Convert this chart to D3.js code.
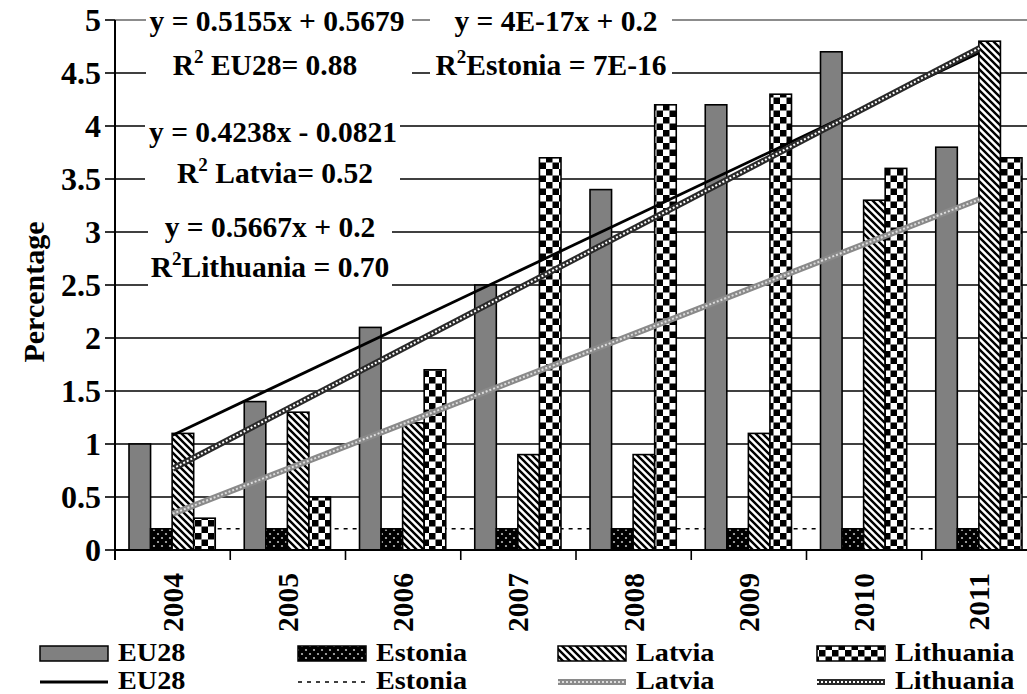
<!DOCTYPE html>
<html><head><meta charset="utf-8">
<script src="https://cdn.jsdelivr.net/npm/d3@7"></script>
<style>
html,body{margin:0;padding:0;background:#fff;}
text{font-family:"Liberation Serif","Times New Roman",serif;font-weight:bold;fill:#000;}
</style></head>
<body>
<svg id="c" width="1027" height="694"></svg>
<script>
const years = ["2004","2005","2006","2007","2008","2009","2010","2011"];
const seriesNames = ["EU28","Estonia","Latvia","Lithuania"];
const eu28      = [1.0, 1.4, 2.1, 2.5, 3.4, 4.2, 4.7, 3.8];
const estonia   = [0.2, 0.2, 0.2, 0.2, 0.2, 0.2, 0.2, 0.2];
const latvia    = [1.1, 1.3, 1.2, 0.9, 0.9, 1.1, 3.3, 4.8];
const lithuania = [0.3, 0.5, 1.7, 3.7, 4.2, 4.3, 3.6, 3.7];
const trendSlopes     = [0.5155, 4e-17, 0.4238, 0.5667];
const trendIntercepts = [0.5679, 0.2, -0.0821, 0.2];
const yTicks = [0, 0.5, 1, 1.5, 2, 2.5, 3, 3.5, 4, 4.5, 5];
const eqLines = ["y = 0.5155x + 0.5679", "y = 4E-17x + 0.2", "y = 0.4238x - 0.0821", "y = 0.5667x + 0.2"];
const r2Labels = [["R", "2", " EU28= 0.88"], ["R", "2", "Estonia = 7E-16"], ["R", "2", " Latvia= 0.52"], ["R", "2", "Lithuania = 0.70"]];

const values = [eu28, estonia, latvia, lithuania];
const svg = d3.select("#c");
const defs = svg.append("defs");

// patterns
const pE = defs.append("pattern").attr("id","pEst").attr("patternUnits","userSpaceOnUse").attr("width",8).attr("height",8);
pE.append("rect").attr("width",8).attr("height",8).attr("fill","#000");
pE.append("circle").attr("cx",2).attr("cy",2).attr("r",1.1).attr("fill","#bbb");
pE.append("circle").attr("cx",6).attr("cy",6).attr("r",1.1).attr("fill","#bbb");

const pL = defs.append("pattern").attr("id","pLat").attr("patternUnits","userSpaceOnUse").attr("width",7).attr("height",7);
pL.append("rect").attr("width",7).attr("height",7).attr("fill","#fff");
pL.append("path").attr("d","M0,0L7,7M-2,5L2,9M5,-2L9,2").attr("stroke","#000").attr("stroke-width",2.4);

const pT = defs.append("pattern").attr("id","pLit").attr("patternUnits","userSpaceOnUse").attr("width",13).attr("height",13);
pT.append("rect").attr("width",13).attr("height",13).attr("fill","#fff");
pT.append("rect").attr("width",6.5).attr("height",6.5).attr("fill","#000");
pT.append("rect").attr("x",6.5).attr("y",6.5).attr("width",6.5).attr("height",6.5).attr("fill","#000");

const fills = ["#808080","url(#pEst)","url(#pLat)","url(#pLit)"];

const x0 = d3.scaleBand().domain(years).range([115, 1037]).paddingInner(0).paddingOuter(0);
const x1 = d3.scaleBand().domain(seriesNames).range([14, x0.bandwidth()-15]).padding(0);
const y = d3.scaleLinear().domain([0, 5]).range([550, 20]);

// gridlines
svg.append("g").selectAll("line").data(yTicks.filter(d=>d>0)).join("line")
  .attr("x1",115).attr("x2",1037).attr("y1",d=>y(d)).attr("y2",d=>y(d))
  .attr("stroke",d=>d===5?"#8c8c8c":"#000").attr("stroke-width",d=>d===5?2:1.6);

// Estonia trend (dotted, under bars)
const cx = i => x0(years[i]) + x0.bandwidth()/2;
const trendPts = k => [[cx(0), y(trendSlopes[k]*1+trendIntercepts[k])],[cx(years.length-1), y(trendSlopes[k]*years.length+trendIntercepts[k])]];
const lineGen = d3.line();
svg.append("path").attr("d",lineGen(trendPts(1))).attr("stroke","#000").attr("stroke-width",1.6).attr("stroke-dasharray","4,5").attr("fill","none");

// bars
const gBars = svg.append("g");
years.forEach((yr,i)=>{
  seriesNames.forEach((s,k)=>{
    const v = values[k][i];
    gBars.append("rect").attr("x",x0(yr)+x1(s)).attr("width",x1.bandwidth())
      .attr("y",y(v)).attr("height",y(0)-y(v))
      .attr("fill",fills[k]).attr("stroke","#000").attr("stroke-width",1.6);
  });
});

// trendlines on top
function styledLine(g, d, k){
  if(k===0){ g.append("path").attr("d",d).attr("stroke","#000").attr("stroke-width",2.8).attr("fill","none"); }
  else if(k===1){ g.append("path").attr("d",d).attr("stroke","#000").attr("stroke-width",1.6).attr("stroke-dasharray","4,5").attr("fill","none"); }
  else if(k===2){
    g.append("path").attr("d",d).attr("stroke","#8a8a8a").attr("stroke-width",6).attr("fill","none");
    g.append("path").attr("d",d).attr("stroke","#dcdcdc").attr("stroke-width",2).attr("stroke-dasharray","2,2").attr("fill","none");
  } else {
    g.append("path").attr("d",d).attr("stroke","#2a2a2a").attr("stroke-width",6).attr("fill","none");
    g.append("path").attr("d",d).attr("stroke","#fff").attr("stroke-width",2).attr("stroke-dasharray","2,2").attr("fill","none");
  }
}
const gTr = svg.append("g");
[0,3,2].forEach(k=>styledLine(gTr, lineGen(trendPts(k)), k));

// axes
const yAxis = svg.append("g");
yAxis.append("line").attr("x1",115).attr("x2",115).attr("y1",20).attr("y2",560).attr("stroke","#000").attr("stroke-width",2);
yAxis.selectAll(".tk").data(yTicks).join("line").attr("x1",105).attr("x2",115).attr("y1",d=>y(d)).attr("y2",d=>y(d)).attr("stroke","#000").attr("stroke-width",1.6);
yAxis.selectAll("text").data(yTicks).join("text").attr("x",101).attr("y",d=>y(d)).attr("dy","0.34em")
  .attr("text-anchor","end").attr("font-size",32).text(d=>d3.format("~g")(d));

const xAxis = svg.append("g");
xAxis.append("line").attr("x1",115).attr("x2",1037).attr("y1",550).attr("y2",550).attr("stroke","#000").attr("stroke-width",2);
xAxis.selectAll(".tk").data(years).join("line").attr("x1",d=>x0(d)).attr("x2",d=>x0(d)).attr("y1",550).attr("y2",560).attr("stroke","#000").attr("stroke-width",1.6);
xAxis.selectAll("text").data(years).join("text")
  .attr("transform",d=>`translate(${x0(d)+x0.bandwidth()/2+10},573) rotate(-90)`)
  .attr("text-anchor","end").attr("font-size",29.5).text(d=>d);

svg.append("text").attr("transform","translate(44,292) rotate(-90)").attr("text-anchor","middle").attr("font-size",30).text("Percentage");

// equation boxes
const boxes = [[146,6,266,84],[430,6,242,84],[145,112,255,80],[148,207,244,86]];
boxes.forEach(b=>svg.append("rect").attr("x",b[0]).attr("y",b[1]).attr("width",b[2]).attr("height",b[3]).attr("fill","#fff"));
const eqPos = [[277,31],[556,31],[273,142],[270,237]];
const r2Pos = [[265,75],[551,75],[275,183],[270,277]];
eqLines.forEach((t,i)=>svg.append("text").attr("x",eqPos[i][0]).attr("y",eqPos[i][1]).attr("text-anchor","middle").attr("font-size",29.5).text(t));
r2Labels.forEach((p,i)=>{
  const t = svg.append("text").attr("x",r2Pos[i][0]).attr("y",r2Pos[i][1]).attr("text-anchor","middle").attr("font-size",29.5);
  t.append("tspan").text(p[0]);
  t.append("tspan").attr("font-size",19).attr("dy",-12).text(p[1]);
  t.append("tspan").attr("dy",12).text(p[2]);
});

// legend
const legX = [40, 298, 558, 817];
const lg = svg.append("g");
seriesNames.forEach((s,k)=>{
  lg.append("rect").attr("x",legX[k]).attr("y",646).attr("width",68).attr("height",15).attr("fill",fills[k]).attr("stroke","#000").attr("stroke-width",1.5);
  lg.append("g").attr("transform",`translate(${legX[k]+78},661) scale(1.13,1)`).append("text").attr("font-size",25).text(s);
  styledLine(lg, lineGen([[legX[k],682],[legX[k]+68,682]]), k);
  lg.append("g").attr("transform",`translate(${legX[k]+78},688.5) scale(1.13,1)`).append("text").attr("font-size",25).text(s);
});
</script>
</body></html>
